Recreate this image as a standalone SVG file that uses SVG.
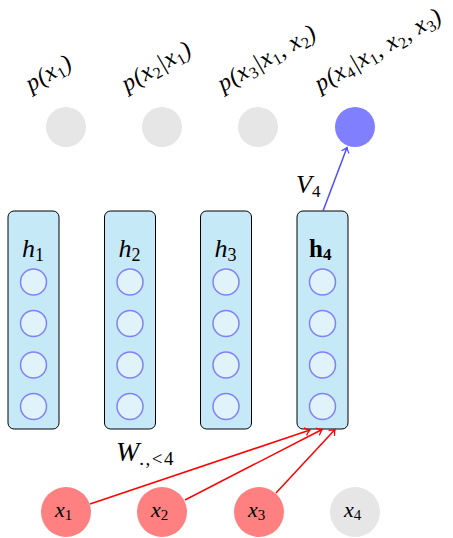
<svg xmlns="http://www.w3.org/2000/svg" width="453" height="538" viewBox="0 0 453 538">
<defs>
<style>
.m{font-family:"Liberation Serif","Times New Roman",serif;font-style:italic;fill:#000}
.b{font-family:"Liberation Serif","Times New Roman",serif;font-weight:bold;fill:#000}
.s{font-style:normal}
.t{letter-spacing:0.6px}
.grey{fill:#e6e6e6}
.col{fill:#c6e9f8;stroke:#000;stroke-width:1}
.unit{fill:#e0f3fb;stroke:#8080ff;stroke-width:1.5}
.red{stroke:#ff0000;stroke-width:1.5;fill:none}
.blue{stroke:#4d4dff;stroke-width:1.5;fill:none}
</style>
<marker id="ar" markerUnits="userSpaceOnUse" markerWidth="12" markerHeight="12" refX="0" refY="0" viewBox="-8 -6 10 12" orient="auto">
<path d="M-5,-4 Q-2,-1 0,0 Q-2,1 -5,4" fill="none" stroke="#ff0000" stroke-width="1.3"/>
</marker>
<marker id="ab" markerUnits="userSpaceOnUse" markerWidth="12" markerHeight="12" refX="0" refY="0" viewBox="-8 -6 10 12" orient="auto">
<path d="M-5,-4 Q-2,-1 0,0 Q-2,1 -5,4" fill="none" stroke="#4d4dff" stroke-width="1.3"/>
</marker>
</defs>
<rect width="453" height="538" fill="#fff"/>

<g id="p1">
<circle class="grey" cx="66" cy="127" r="20"/>
<text class="m t" font-size="24" transform="translate(31,92) rotate(-30)">p(x<tspan class="s" font-size="16" dy="4">1</tspan><tspan dy="-4">)</tspan></text>
</g>
<g id="p2">
<circle class="grey" cx="162" cy="127" r="20"/>
<text class="m t" font-size="24" transform="translate(127,92) rotate(-30)">p(x<tspan class="s" font-size="16" dy="4">2</tspan><tspan dy="-4">|x</tspan><tspan class="s" font-size="16" dy="4">1</tspan><tspan dy="-4">)</tspan></text>
</g>
<g id="p3">
<circle class="grey" cx="258" cy="127" r="20"/>
<text class="m t" font-size="24" transform="translate(223,92) rotate(-30)">p(x<tspan class="s" font-size="16" dy="4">3</tspan><tspan dy="-4">|x</tspan><tspan class="s" font-size="16" dy="4">1</tspan><tspan dy="-4">, x</tspan><tspan class="s" font-size="16" dy="4">2</tspan><tspan dy="-4">)</tspan></text>
</g>
<g id="p4">
<circle cx="355" cy="127" r="20" fill="#8080ff"/>
<text class="m t" font-size="24" transform="translate(320,92) rotate(-30)">p(x<tspan class="s" font-size="16" dy="4">4</tspan><tspan dy="-4">|x</tspan><tspan class="s" font-size="16" dy="4">1</tspan><tspan dy="-4">, x</tspan><tspan class="s" font-size="16" dy="4">2</tspan><tspan dy="-4">, x</tspan><tspan class="s" font-size="16" dy="4">3</tspan><tspan dy="-4">)</tspan></text>
</g>

<g id="h1">
<rect class="col" x="8" y="211" width="51" height="218" rx="6"/>
<text class="m" font-size="26" x="22" y="257">h<tspan class="s" font-size="18" dy="4">1</tspan></text>
<circle class="unit" cx="33.5" cy="282" r="13"/>
<circle class="unit" cx="33.5" cy="323.5" r="13"/>
<circle class="unit" cx="33.5" cy="365" r="13"/>
<circle class="unit" cx="33.5" cy="406.5" r="13"/>
</g>
<g id="h2">
<rect class="col" x="104.5" y="211" width="51" height="218" rx="6"/>
<text class="m" font-size="26" x="118.5" y="257">h<tspan class="s" font-size="18" dy="4">2</tspan></text>
<circle class="unit" cx="130" cy="282" r="13"/>
<circle class="unit" cx="130" cy="323.5" r="13"/>
<circle class="unit" cx="130" cy="365" r="13"/>
<circle class="unit" cx="130" cy="406.5" r="13"/>
</g>
<g id="h3">
<rect class="col" x="200.5" y="211" width="51" height="218" rx="6"/>
<text class="m" font-size="26" x="214.5" y="257">h<tspan class="s" font-size="18" dy="4">3</tspan></text>
<circle class="unit" cx="226" cy="282" r="13"/>
<circle class="unit" cx="226" cy="323.5" r="13"/>
<circle class="unit" cx="226" cy="365" r="13"/>
<circle class="unit" cx="226" cy="406.5" r="13"/>
</g>
<g id="h4">
<rect class="col" x="297" y="211" width="51" height="218" rx="6"/>
<text class="b" font-size="25" x="309" y="257">h<tspan font-size="17" dy="3">4</tspan></text>
<circle class="unit" cx="322.5" cy="282" r="13"/>
<circle class="unit" cx="322.5" cy="323.5" r="13"/>
<circle class="unit" cx="322.5" cy="365" r="13"/>
<circle class="unit" cx="322.5" cy="406.5" r="13"/>
</g>

<g id="x1">
<circle cx="66" cy="512" r="25" fill="#ff8080"/>
<text class="m" font-size="22" x="55" y="517">x<tspan class="s" font-size="15" dy="3">1</tspan></text>
</g>
<g id="x2">
<circle cx="162" cy="512" r="25" fill="#ff8080"/>
<text class="m" font-size="22" x="151" y="517">x<tspan class="s" font-size="15" dy="3">2</tspan></text>
</g>
<g id="x3">
<circle cx="259" cy="512" r="25" fill="#ff8080"/>
<text class="m" font-size="22" x="248" y="517">x<tspan class="s" font-size="15" dy="3">3</tspan></text>
</g>
<g id="x4">
<circle cx="355" cy="512" r="25" fill="#e6e6e6"/>
<text class="m" font-size="22" x="344" y="517">x<tspan class="s" font-size="15" dy="3">4</tspan></text>
</g>

<g id="connectors">
<line class="blue" x1="323" y1="211" x2="347" y2="147.5" marker-end="url(#ab)"/>
<line class="red" x1="90" y1="504" x2="310" y2="430" marker-end="url(#ar)"/>
<line class="red" x1="185" y1="500" x2="322" y2="429.5" marker-end="url(#ar)"/>
<line class="red" x1="276" y1="493" x2="335" y2="429.5" marker-end="url(#ar)"/>
<text class="m" font-size="26" x="296" y="193">V<tspan class="s" font-size="17" dy="4">4</tspan></text>
<text class="m" font-size="28" x="116" y="461">W<tspan class="s" font-size="19" dy="4" letter-spacing="1.5">.,&lt;4</tspan></text>
</g>
</svg>
